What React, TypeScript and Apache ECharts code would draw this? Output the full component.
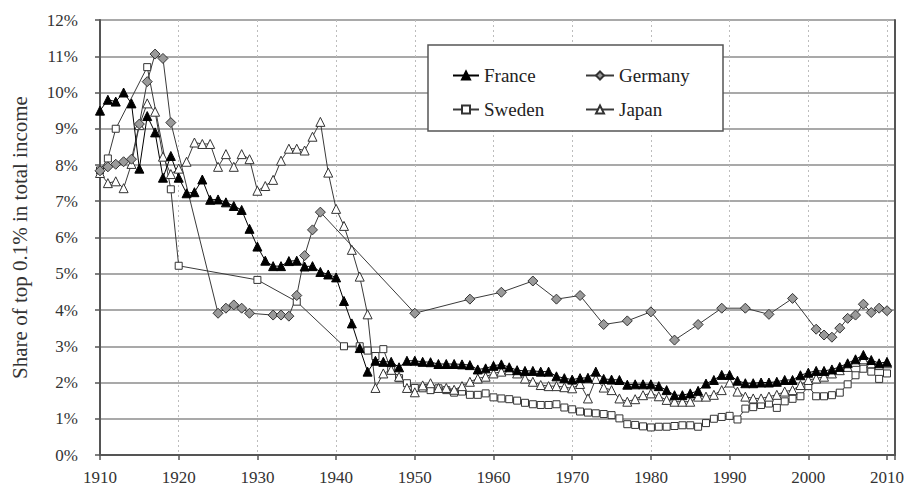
import React, { useEffect, useRef } from "react";
import * as echarts from "echarts";

const yearTicks = [1910, 1920, 1930, 1940, 1950, 1960, 1970, 1980, 1990, 2000, 2010];
const percentTicks = [0, 1, 2, 3, 4, 5, 6, 7, 8, 9, 10, 11, 12];

const france: [number, number][] = [
  [1910, 9.5], [1911, 9.8], [1912, 9.75], [1913, 10.0], [1914, 9.7], [1915, 7.9], [1916, 9.35], [1917, 8.9],
  [1918, 7.65], [1919, 8.25], [1920, 7.65], [1921, 7.22], [1922, 7.25], [1923, 7.6], [1924, 7.04], [1925, 7.05],
  [1926, 6.97], [1927, 6.87], [1928, 6.76], [1929, 6.24], [1930, 5.75], [1931, 5.36], [1932, 5.21], [1933, 5.21],
  [1934, 5.35], [1935, 5.36], [1936, 5.2], [1937, 5.21], [1938, 5.05], [1939, 4.98], [1940, 4.9], [1941, 4.25],
  [1942, 3.63], [1943, 2.95], [1944, 2.3], [1945, 2.6], [1946, 2.57], [1947, 2.57], [1948, 2.42], [1949, 2.6],
  [1950, 2.6], [1951, 2.57], [1952, 2.56], [1953, 2.51], [1954, 2.51], [1955, 2.51], [1956, 2.5], [1957, 2.48],
  [1958, 2.36], [1959, 2.39], [1960, 2.46], [1961, 2.5], [1962, 2.42], [1963, 2.34], [1964, 2.32], [1965, 2.32],
  [1966, 2.3], [1967, 2.3], [1968, 2.17], [1969, 2.12], [1970, 2.08], [1971, 2.12], [1972, 2.13], [1973, 2.3],
  [1974, 2.1], [1975, 2.08], [1976, 2.07], [1977, 1.94], [1978, 1.95], [1979, 1.95], [1980, 1.95], [1981, 1.9],
  [1982, 1.79], [1983, 1.65], [1984, 1.65], [1985, 1.7], [1986, 1.77], [1987, 1.97], [1988, 2.07], [1989, 2.21],
  [1990, 2.21], [1991, 2.05], [1992, 1.98], [1993, 1.98], [1994, 2.0], [1995, 2.0], [1996, 2.02], [1997, 2.07],
  [1998, 2.07], [1999, 2.2], [2000, 2.27], [2001, 2.32], [2002, 2.32], [2003, 2.36], [2004, 2.43], [2005, 2.53],
  [2006, 2.64], [2007, 2.76], [2008, 2.62], [2009, 2.53], [2010, 2.57],
];

const germany: [number, number][] = [
  [1910, 7.84], [1911, 7.95], [1912, 8.02], [1913, 8.09], [1914, 8.16], [1915, 9.13], [1916, 10.3], [1917, 11.06],
  [1918, 10.94], [1919, 9.17], [1925, 3.91], [1926, 4.05], [1927, 4.14], [1928, 4.05], [1929, 3.91], [1932, 3.86],
  [1933, 3.86], [1934, 3.83], [1935, 4.4], [1936, 5.5], [1937, 6.21], [1938, 6.7], [1950, 3.91], [1957, 4.3],
  [1961, 4.49], [1965, 4.8], [1968, 4.3], [1971, 4.4], [1974, 3.6], [1977, 3.7], [1980, 3.95], [1983, 3.17],
  [1986, 3.6], [1989, 4.05], [1992, 4.05], [1995, 3.88], [1998, 4.32], [2001, 3.47], [2002, 3.31], [2003, 3.25],
  [2004, 3.5], [2005, 3.77], [2006, 3.86], [2007, 4.16], [2008, 3.93], [2009, 4.05], [2010, 3.98],
];

const sweden: [number, number][] = [
  [1910, 7.85], [1911, 8.18], [1912, 9.0], [1916, 10.7], [1919, 7.33], [1920, 5.22], [1930, 4.83], [1935, 4.23],
  [1941, 3.0], [1943, 3.0], [1944, 2.88], [1945, 2.73], [1946, 2.92], [1947, 2.34], [1948, 2.12], [1949, 1.98],
  [1950, 1.85], [1951, 1.84], [1952, 1.79], [1953, 1.84], [1954, 1.79], [1955, 1.72], [1956, 1.75], [1957, 1.66],
  [1958, 1.66], [1959, 1.7], [1960, 1.59], [1961, 1.56], [1962, 1.54], [1963, 1.5], [1964, 1.44], [1965, 1.4],
  [1966, 1.38], [1967, 1.38], [1968, 1.4], [1969, 1.31], [1970, 1.26], [1971, 1.2], [1972, 1.17], [1973, 1.15],
  [1974, 1.13], [1975, 1.1], [1976, 1.01], [1977, 0.85], [1978, 0.83], [1979, 0.79], [1980, 0.76], [1981, 0.78],
  [1982, 0.78], [1983, 0.8], [1984, 0.82], [1985, 0.82], [1986, 0.78], [1987, 0.88], [1988, 1.0], [1989, 1.05],
  [1990, 1.08], [1991, 0.98], [1992, 1.28], [1993, 1.32], [1994, 1.38], [1995, 1.42], [1996, 1.3], [1997, 1.48],
  [1998, 1.55], [1999, 1.62], [2000, 1.9], [2001, 1.62], [2002, 1.62], [2003, 1.65], [2004, 1.72], [2005, 1.95],
  [2006, 2.2], [2007, 2.38], [2008, 2.3], [2009, 2.1], [2010, 2.25],
];

const japan: [number, number][] = [
  [1910, 7.78], [1911, 7.5], [1912, 7.55], [1913, 7.36], [1914, 8.03], [1915, 9.1], [1916, 9.7], [1917, 9.47],
  [1918, 8.23], [1919, 7.75], [1920, 7.9], [1921, 8.09], [1922, 8.62], [1923, 8.58], [1924, 8.58], [1925, 7.95],
  [1926, 8.3], [1927, 7.95], [1928, 8.3], [1929, 8.16], [1930, 7.29], [1931, 7.42], [1932, 7.59], [1933, 8.12],
  [1934, 8.45], [1935, 8.45], [1936, 8.4], [1937, 8.78], [1938, 9.19], [1939, 7.79], [1940, 6.79], [1941, 6.32],
  [1942, 5.66], [1943, 4.92], [1944, 3.88], [1945, 1.85], [1946, 2.25], [1947, 2.35], [1948, 2.16], [1949, 1.85],
  [1950, 1.73], [1951, 1.92], [1952, 1.98], [1953, 1.85], [1954, 1.85], [1955, 1.8], [1956, 1.9], [1957, 2.02],
  [1958, 2.11], [1959, 2.16], [1960, 2.25], [1961, 2.3], [1962, 2.34], [1963, 2.25], [1964, 2.11], [1965, 2.02],
  [1966, 1.93], [1967, 1.9], [1968, 1.9], [1969, 1.87], [1970, 1.84], [1971, 1.96], [1972, 1.56], [1973, 2.1],
  [1974, 1.86], [1975, 1.79], [1976, 1.56], [1977, 1.47], [1978, 1.54], [1979, 1.65], [1980, 1.7], [1981, 1.62],
  [1982, 1.52], [1983, 1.47], [1984, 1.47], [1985, 1.47], [1986, 1.61], [1987, 1.61], [1988, 1.66], [1989, 1.79],
  [1990, 2.0], [1991, 1.75], [1992, 1.61], [1993, 1.56], [1994, 1.56], [1995, 1.61], [1996, 1.66], [1997, 1.75],
  [1998, 1.79], [1999, 1.93], [2000, 2.07], [2001, 2.11], [2002, 2.16], [2003, 2.25], [2004, 2.34], [2005, 2.43],
  [2006, 2.57], [2007, 2.64], [2008, 2.53], [2009, 2.48], [2010, 2.53],
];

const FONT = "'Liberation Serif', 'DejaVu Serif', serif";

export default function App() {
  const ref = useRef<HTMLDivElement>(null);
  useEffect(() => {
    document.body.style.margin = "0";
    const chart = echarts.init(ref.current!, null, { renderer: "svg" });
    const lineBase = { type: "line" as const, animation: false, lineStyle: { width: 1, color: "#3a3a3a" } };
    chart.setOption({
      animation: false,
      backgroundColor: "#fff",
      textStyle: { fontFamily: FONT },
      grid: { left: 100, right: 12, top: 20, bottom: 34, containLabel: false },
      xAxis: {
        type: "value",
        min: yearTicks[0],
        max: 2011,
        interval: 10,
        axisLine: { show: true, lineStyle: { color: "#555", width: 2 } },
        axisTick: { show: true, length: 5, lineStyle: { color: "#555", width: 1.5 } },
        axisLabel: {
          margin: 14,
          fontSize: 17,
          color: "#333",
          fontFamily: FONT,
          formatter: (v: number) => (yearTicks.includes(v) ? String(v) : ""),
        },
        splitLine: { show: true, lineStyle: { color: "#bdbdbd", type: [2, 3], width: 1 } },
      },
      yAxis: [
        {
          type: "value",
          min: percentTicks[0],
          max: percentTicks[percentTicks.length - 1],
          interval: 1,
          name: "Share of top 0.1% in total income",
          nameLocation: "middle",
          nameGap: 70,
          nameTextStyle: { fontSize: 21, color: "#333", fontFamily: FONT },
          axisLine: { show: true, lineStyle: { color: "#555", width: 2 } },
          axisTick: { show: true, length: 5, lineStyle: { color: "#555", width: 1.5 } },
          axisLabel: { margin: 22, fontSize: 17, color: "#333", fontFamily: FONT, formatter: "{value}%" },
          splitLine: { show: true, lineStyle: { color: "#a9a9a9", width: 2 } },
        },
        {
          type: "value",
          position: "right",
          min: 0,
          max: 12,
          interval: 1,
          axisLine: { show: true, lineStyle: { color: "#555", width: 2 } },
          axisTick: { show: false },
          axisLabel: { show: false },
          splitLine: { show: false },
        },
      ],
      graphic: {
        elements: [
          {
            type: "rect",
            z: 3,
            shape: { x: 428, y: 45, width: 295, height: 86 },
            style: { fill: "#fff", stroke: "#555", lineWidth: 1.5 },
          },
        ],
      },
      legend: [
        {
          data: ["France", "Sweden"],
          orient: "vertical",
          left: 447,
          top: 61,
          itemGap: 15,
          itemWidth: 26,
          itemHeight: 10,
          z: 5,
          textStyle: { fontSize: 19, color: "#222", fontFamily: FONT },
        },
        {
          data: ["Germany", "Japan"],
          orient: "vertical",
          left: 580,
          top: 61,
          itemGap: 15,
          itemWidth: 28,
          itemHeight: 10,
          z: 5,
          textStyle: { fontSize: 19, color: "#222", fontFamily: FONT },
        },
      ],
      series: [
        {
          ...lineBase,
          name: "Sweden",
          data: sweden,
          symbol: "rect",
          symbolSize: 7,
          itemStyle: { color: "#fff", borderColor: "#333", borderWidth: 1 },
        },
        {
          ...lineBase,
          name: "Japan",
          data: japan,
          symbol: "triangle",
          symbolSize: 9,
          itemStyle: { color: "#fff", borderColor: "#333", borderWidth: 1 },
        },
        {
          ...lineBase,
          name: "Germany",
          data: germany,
          symbol: "diamond",
          symbolSize: 10,
          itemStyle: { color: "#9a9a9a", borderColor: "#333", borderWidth: 1 },
        },
        {
          ...lineBase,
          name: "France",
          data: france,
          symbol: "triangle",
          symbolSize: 9,
          lineStyle: { width: 1, color: "#000" },
          itemStyle: { color: "#000", borderColor: "#000", borderWidth: 1 },
        },
      ],
    });
    return () => chart.dispose();
  }, []);
  return <div ref={ref} style={{ width: 907, height: 489 }} />;
}
